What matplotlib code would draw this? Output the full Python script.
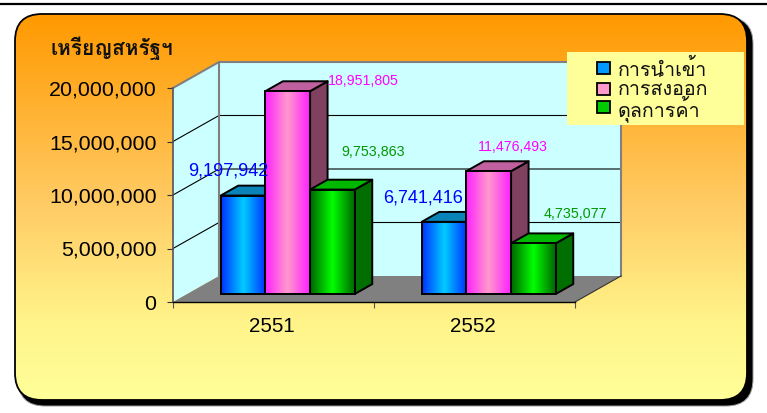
#!/usr/bin/env python3
"""Thai trade balance chart, oblique 3D column look drawn on a flat axes."""
import matplotlib

matplotlib.use("Agg")
import matplotlib.pyplot as plt
import numpy as np
from matplotlib import font_manager as fm
from matplotlib.colors import LinearSegmentedColormap
from matplotlib.patches import FancyBboxPatch, Polygon, Rectangle
from matplotlib.ticker import FuncFormatter

W, H = 767, 413

years = ["2551", "2552"]
series_names = ["การนำเข้า", "การส่งออก", "ดุลการค้า"]
imports = [9197942, 6741416]
exports = [18951805, 11476493]
balance = [9753863, 4735077]
y_ticks = [0, 5000000, 10000000, 15000000, 20000000]
unit_label = "เหรียญสหรัฐฯ"


def thai_family():
    # not every install has a Thai face, look through what is there
    for f in fm.fontManager.ttflist:
        try:
            if 0x0E01 in fm.get_font(f.fname).get_charmap():
                return [f.name, "Liberation Sans"]
        except Exception:
            continue
    return ["Liberation Sans", "DejaVu Sans"]


THAI = thai_family()
plt.rcParams["font.family"] = ["Liberation Sans", "DejaVu Sans"]

fig = plt.figure(figsize=(W / 100, H / 100), dpi=100)
fig.patch.set_facecolor("white")

# pixel space background: rule, shadow, rounded gradient panel
bg = fig.add_axes([0, 0, 1, 1])
bg.set_xlim(0, W)
bg.set_ylim(H, 0)
bg.axis("off")
bg.plot([0, W], [4, 4], color="black", lw=1.6, solid_capstyle="butt")

box = dict(boxstyle="round,pad=0,rounding_size=27")
bg.add_patch(FancyBboxPatch((18, 17), 735, 389, fc="black", ec="#999999", lw=0.7, **box))
panel_cmap = LinearSegmentedColormap.from_list(
    "panel", [(0, "#FF9900"), (0.5, "#FFCC66"), (0.8, "#FFF48A"), (1, "#FFFF99")])
panel = FancyBboxPatch((15, 14), 732, 386, fc="none", ec="black", lw=1.3, zorder=3, **box)
bg.add_patch(panel)
img = bg.imshow(np.linspace(0, 1, 256)[:, None], cmap=panel_cmap, aspect="auto",
                extent=(15, 747, 400, 14), zorder=2)
img.set_clip_path(panel)
bg.set_xlim(0, W)
bg.set_ylim(H, 0)
bg.text(50, 48, unit_label, family=THAI, fontsize=15, fontweight="bold",
        va="center", ha="left", color="#111111", zorder=4)

# value axes sit on the front plane of the oblique box
ax = fig.add_axes([173 / W, (H - 302) / H, 402 / W, 214 / H])
ax.patch.set_visible(False)
ax.set_xlim(0, 2)
ax.set_ylim(0, 20000000)
ax.autoscale(False)

DX = 46 / 201
DY = 26 / 214 * 20000000


def proj(x, v, d):
    return x + d * DX, v + d * DY


def face(points, **kw):
    kw.setdefault("clip_on", False)
    ax.add_patch(Polygon([proj(*p) for p in points], closed=True, **kw))


top = y_ticks[-1]
face([(0, 0, 0), (0, 0, 1), (0, top, 1), (0, top, 0)], fc="#CCFFFF", ec="none", zorder=1)
face([(0, 0, 1), (2, 0, 1), (2, top, 1), (0, top, 1)], fc="#CCFFFF", ec="none", zorder=1)
face([(0, 0, 0), (2, 0, 0), (2, 0, 1), (0, 0, 1)], fc="#808080", ec="none", zorder=1)

for t in y_ticks[1:-1]:
    xs, ys = zip(proj(0, t, 0), proj(0, t, 1), proj(2, t, 1))
    ax.plot(xs, ys, color="black", lw=0.8, clip_on=False, zorder=2)
for pts in ([(0, top, 0), (0, top, 1), (2, top, 1), (2, 0, 1)],
            [(0, 0, 1), (0, top, 1)]):
    xs, ys = zip(*[proj(*p) for p in pts])
    ax.plot(xs, ys, color="#808080", lw=1.5, clip_on=False, zorder=2)
xs, ys = zip(proj(2, 0, 0), proj(2, 0, 1))
ax.plot(xs, ys, color="#333333", lw=0.8, clip_on=False, zorder=2)

bar_w = 1 / 4.5
gap = 0.75 * bar_w
d0, d1 = 0.31, 0.69
styles = [
    (["#0033FF", "#00CCFF", "#0033FF"], "#0A84B8", "#004080", "#0000FF"),
    (["#FF22FF", "#FF99CC", "#FF22FF"], "#C0609F", "#804060", "#FF00FF"),
    (["#006600", "#00FF00", "#006600"], "#00B800", "#006E00", "#009900"),
]
# label centre relative to the bar's top centre, in pixels (right, up)
label_offsets = [
    [(-15, 25), (-21, 24)],
    [(76, 10), (24, 24)],
    [(41, 38), (42, 29)],
]
label_sizes = [
    [13.1, 13.0],
    [10.2, 10.2],
    [10.3, 10.3],
]

for i in range(len(years)):
    for j, values in enumerate([imports, exports, balance]):
        v = values[i]
        x0 = i + gap + j * bar_w
        x1 = x0 + bar_w
        colors, top_c, side_c, text_c = styles[j]
        z = 3 + 3 * i + j * 0.1
        face([(x1, 0, d0), (x1, 0, d1), (x1, v, d1), (x1, v, d0)], fc=side_c,
             ec="black", lw=1.4, joinstyle="round", zorder=z)
        face([(x0, v, d0), (x1, v, d0), (x1, v, d1), (x0, v, d1)], fc=top_c,
             ec="black", lw=1.4, joinstyle="round", zorder=z)
        fx0, y0 = proj(x0, 0, d0)
        fx1, y1 = proj(x1, v, d0)
        cmap = LinearSegmentedColormap.from_list("bar", colors)
        ax.imshow(np.linspace(0, 1, 64)[None, :], cmap=cmap, aspect="auto",
                  extent=(fx0, fx1, y0, y1), zorder=z + 0.01, clip_on=False)
        ax.add_patch(Rectangle((fx0, y0), fx1 - fx0, y1 - y0, fc="none", ec="black",
                               lw=1.4, clip_on=False, zorder=z + 0.02))
        ax.annotate(f"{v:,}", xy=((fx0 + fx1) / 2, y1), xytext=label_offsets[j][i],
                    textcoords="offset pixels", ha="center", va="center",
                    fontsize=label_sizes[j][i], color=text_c, zorder=20,
                    annotation_clip=False)

ax.set_xlim(0, 2)
ax.set_ylim(0, top)

for side in ("top", "right"):
    ax.spines[side].set_visible(False)
ax.spines["left"].set_color("#555555")
ax.spines["left"].set_linewidth(1.2)
ax.spines["bottom"].set_color("black")
ax.spines["bottom"].set_linewidth(1.0)
for s in ax.spines.values():
    s.set_zorder(2.5)

ax.set_yticks(y_ticks)
ax.yaxis.set_major_formatter(FuncFormatter(lambda v, _: f"{int(v):,}"))
ax.tick_params(axis="y", labelsize=15.4, length=4.3, width=0.8, pad=7.5, color="#333333")
ax.set_xticks([0, 1, 2])
ax.set_xticklabels([])
# reference labels sit a touch left of the category centre
ax.set_xticks([0.49, 1.49], labels=years, minor=True)
ax.tick_params(axis="x", which="major", length=4.3, width=0.8, color="#555555")
ax.tick_params(axis="x", which="minor", length=0, labelsize=14.8, pad=11)

# legend drawn by hand: fig.legend spaces these Thai rows unevenly
legend_ax = fig.add_axes([0, 0, 1, 1], zorder=5)
legend_ax.set_xlim(0, W)
legend_ax.set_ylim(H, 0)
legend_ax.axis("off")
legend_ax.add_patch(Rectangle((567, 52), 177, 73, fc="#FFFF99", ec="none"))
swatch_colors = ["#0099FF", "#FF99CC", "#00CC00"]
swatch_tops = [62, 83, 101]
baselines = [76, 95, 116]
for name, c, sy, by in zip(series_names, swatch_colors, swatch_tops, baselines):
    legend_ax.add_patch(Rectangle((597, sy), 13, 12, fc=c, ec="black", lw=1.3))
    legend_ax.text(618, by, name, family=THAI, fontsize=14.2, va="baseline", ha="left",
                   color="#111111")

fig.savefig("out.png", dpi=100)
